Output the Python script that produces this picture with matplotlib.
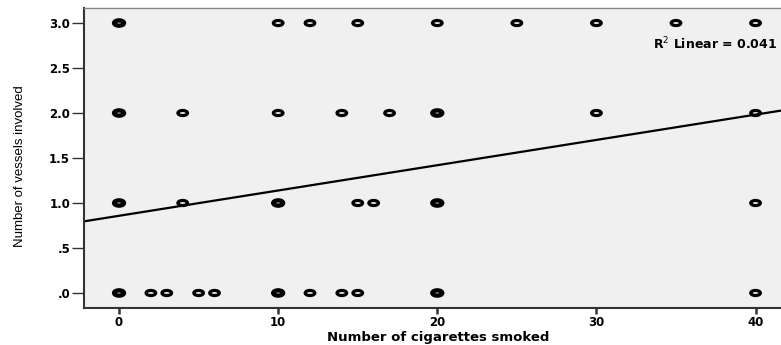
import numpy as np
import matplotlib
matplotlib.use("Agg")
import matplotlib.pyplot as plt
from matplotlib.path import Path
from matplotlib.transforms import Affine2D

# Data (cigarettes smoked, vessels involved)
x_vals = [0, 10, 12, 15, 20, 25, 30, 35, 40,
          0, 4, 10, 14, 17, 20, 30, 40,
          0, 4, 10, 15, 16, 20, 40,
          0, 2, 3, 5, 6, 10, 12, 14, 15, 20, 40]
y_vals = [3]*9 + [2]*8 + [1]*7 + [0]*11
# points with many overlapping cases (drawn heavier)
heavy_x = [0, 0, 0, 0, 10, 10, 20, 20, 20]
heavy_y = [3, 2, 1, 0, 1, 0, 2, 1, 0]

fit_intercept = 0.858
fit_slope = 0.0281
r2_label = "R$^2$ Linear = 0.041"

x_ticks = [0, 10, 20, 30, 40]
y_ticks = [0.0, 0.5, 1.0, 1.5, 2.0, 2.5, 3.0]
y_tick_labels = [".0", ".5", "1.0", "1.5", "2.0", "2.5", "3.0"]

fig = plt.figure(figsize=(7.81, 3.45), dpi=100)
ax = fig.add_axes([0.1076, 0.1072, 0.8924, 0.8696])
ax.set_facecolor("#f0f0f0")

ell = Affine2D().scale(1.9, 1.0).transform_path(Path.unit_circle())

xl = (-2.2, 41.6)
xs = np.array(xl)
ax.plot(xs, fit_intercept + fit_slope * xs, color="black", lw=1.6, zorder=2)

ax.scatter(x_vals, y_vals, marker=ell, s=48, facecolors="none",
           edgecolors="black", linewidths=2.3, zorder=3)
ax.scatter(heavy_x, heavy_y, marker=ell, s=52, facecolors="none",
           edgecolors="black", linewidths=3.1, zorder=3)

ax.set_xlim(*xl)
ax.set_ylim(-0.167, 3.167)
ax.set_xticks(x_ticks)
ax.set_xticklabels([str(t) for t in x_ticks])
ax.set_yticks(y_ticks)
ax.set_yticklabels(y_tick_labels)

for lab in ax.get_xticklabels() + ax.get_yticklabels():
    lab.set_fontfamily("DejaVu Sans")
    lab.set_fontweight("bold")
    lab.set_fontsize(8.5)

ax.tick_params(axis="y", direction="out", length=9, width=1.0, color="#333333", pad=1)
ax.tick_params(axis="x", direction="out", length=4, width=1.8, color="#333333", pad=2)
for side in ["left", "bottom"]:
    ax.spines[side].set_color("#333333")
    ax.spines[side].set_linewidth(1.5)
ax.spines["top"].set_color("#888888")
ax.spines["top"].set_linewidth(1.0)
ax.spines["right"].set_visible(False)

ax.set_xlabel("Number of cigarettes smoked", fontfamily="DejaVu Sans",
              fontweight="bold", fontsize=9.5)
ax.xaxis.set_label_coords(0.508, -0.075)
ax.set_ylabel("Number of vessels involved", fontfamily="Liberation Sans",
              fontsize=9.5)
ax.yaxis.set_label_coords(-0.083, 0.473)

ax.text(0.995, 0.88, r2_label, transform=ax.transAxes, ha="right", va="center",
        fontfamily="DejaVu Sans", fontweight="bold", fontsize=9)

fig.savefig("out.png", dpi=100)
